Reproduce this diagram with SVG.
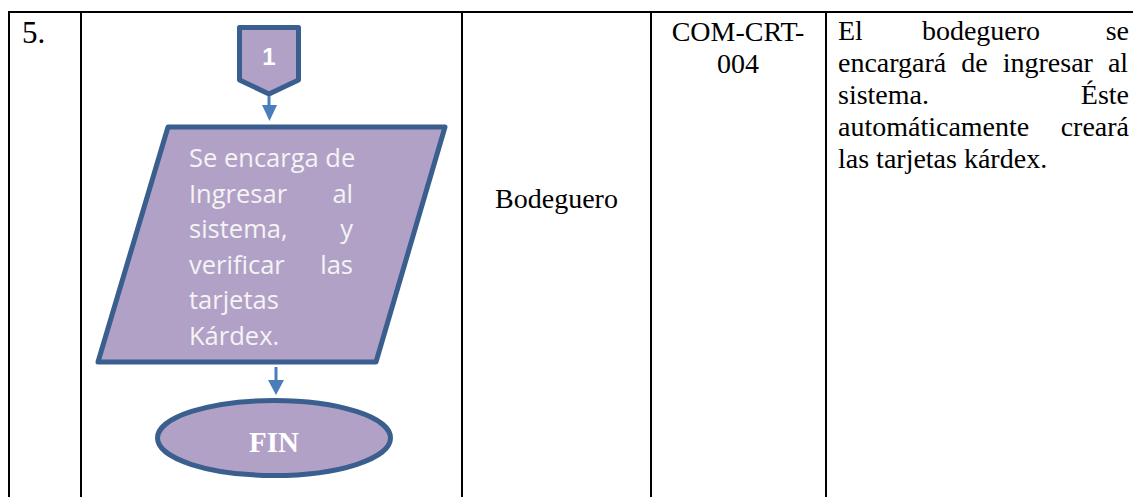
<svg xmlns="http://www.w3.org/2000/svg" width="1133" height="497" viewBox="0 0 1133 497">
<style>
.grid{stroke:#000;stroke-width:2;fill:none}
.tnr{font-family:"Liberation Serif","Times New Roman",serif;font-size:28px;fill:#000}
.shape{fill:#b2a1c7;stroke:#3a5f8f;stroke-width:5;stroke-linejoin:round}
.flow{font-family:"Open Sans","Liberation Sans",sans-serif;font-size:25.5px;fill:#f4f4f4}
.arrow{fill:#4a7ebb}
</style>
<rect width="1133" height="497" fill="#fff"/>
<g id="table">
<line class="grid" x1="8" y1="12" x2="1133" y2="12"/>
<line class="grid" x1="9" y1="11" x2="9" y2="497"/>
<line class="grid" x1="81" y1="11" x2="81" y2="497"/>
<line class="grid" x1="462" y1="11" x2="462" y2="497"/>
<line class="grid" x1="651" y1="11" x2="651" y2="497"/>
<line class="grid" x1="826" y1="11" x2="826" y2="497"/>
</g>
<g id="cell-number"><text class="tnr" x="22" y="43" style="font-size:31px">5.</text></g>
<g id="connector-1">
<path class="shape" d="M239.5,27.5 H298.5 V80 L269,94 L239.5,80 Z"/>
<text x="269" y="65" text-anchor="middle" style="font-family:'Liberation Sans',Arial,sans-serif;font-size:24px;font-weight:bold;fill:#fff">1</text>
</g>
<g id="connectors">
<rect class="arrow" x="267.5" y="96" width="3" height="10"/>
<polygon class="arrow" points="262,105 277,105 269.5,121"/>
<rect class="arrow" x="274.5" y="367" width="3" height="14"/>
<polygon class="arrow" points="268,380 284,380 276,395"/>
</g>
<g id="process">
<polygon class="shape" points="168,127 445,127 376,362 98,362"/>
<text class="flow" x="189" y="167">Se encarga de</text>
<text class="flow" x="189" y="203">Ingresar</text>
<text class="flow" x="353" y="203" text-anchor="end">al</text>
<text class="flow" x="189" y="238">sistema,</text>
<text class="flow" x="353" y="238" text-anchor="end">y</text>
<text class="flow" x="189" y="274">verificar</text>
<text class="flow" x="353" y="274" text-anchor="end">las</text>
<text class="flow" x="189" y="309">tarjetas</text>
<text class="flow" x="189" y="345">Kárdex.</text>
</g>
<g id="end">
<ellipse class="shape" cx="274" cy="438" rx="116.5" ry="37.5"/>
<text x="274" y="452" text-anchor="middle" style="font-family:'Liberation Serif','Times New Roman',serif;font-size:29px;font-weight:bold;fill:#fff">FIN</text>
</g>
<g id="cell-role"><text class="tnr" x="556.5" y="208" text-anchor="middle">Bodeguero</text></g>
<g id="cell-code">
<text class="tnr" x="738" y="41" text-anchor="middle">COM-CRT-</text>
<text class="tnr" x="738" y="73" text-anchor="middle">004</text>
</g>
<g id="cell-description">
<text class="tnr" x="838" y="40">El</text>
<text class="tnr" x="981" y="40" text-anchor="middle">bodeguero</text>
<text class="tnr" x="1129" y="40" text-anchor="end">se</text>
<text class="tnr" x="838" y="72" word-spacing="8">encargará de ingresar al</text>
<text class="tnr" x="838" y="104">sistema.</text>
<text class="tnr" x="1129" y="104" text-anchor="end">Éste</text>
<text class="tnr" x="838" y="136">automáticamente</text>
<text class="tnr" x="1129" y="136" text-anchor="end">creará</text>
<text class="tnr" x="838" y="168">las tarjetas kárdex.</text>
</g>
</svg>
